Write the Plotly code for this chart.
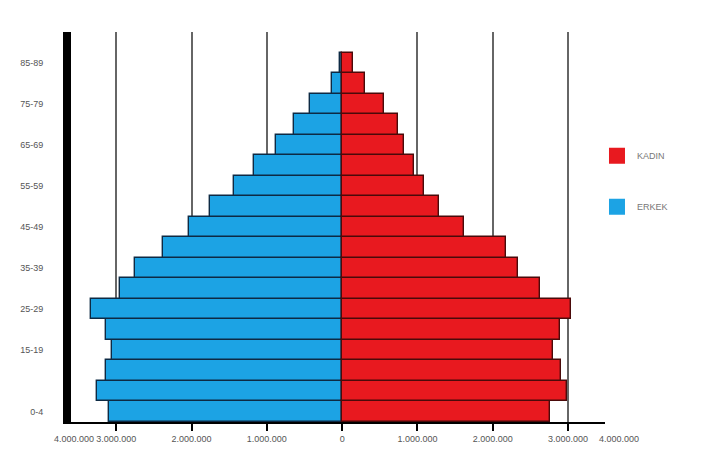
import plotly.graph_objects as go

age_groups = ["0-4", "5-9", "10-14", "15-19", "20-24", "25-29", "30-34", "35-39",
              "40-44", "45-49", "50-54", "55-59", "60-64", "65-69", "70-74",
              "75-79", "80-84", "85-89"]
erkek = [3090000, 3250000, 3140000, 3050000, 3140000, 3330000, 2950000, 2750000,
         2380000, 2040000, 1750000, 1430000, 1170000, 880000, 640000,
         430000, 130000, 30000]
kadin = [2760000, 2990000, 2910000, 2800000, 2890000, 3040000, 2630000, 2340000,
         2170000, 1620000, 1280000, 1090000, 960000, 820000, 740000,
         550000, 300000, 140000]
shown_age_labels = ["0-4", "15-19", "25-29", "35-39", "45-49", "55-59", "65-69", "75-79", "85-89"]
x_tick_vals = [-3000000, -2000000, -1000000, 0, 1000000, 2000000, 3000000]
x_tick_text = ["3.000.000", "2.000.000", "1.000.000", "0", "1.000.000", "2.000.000", "3.000.000"]
grid_vals = [-3000000, -2000000, -1000000, 1000000, 2000000, 3000000]
end_label = "4.000.000"

BLUE = "#1ca3e4"
RED = "#e8191f"

fig = go.Figure()
fig.add_trace(go.Bar(
    y=age_groups, x=[-v for v in erkek], orientation="h", name="ERKEK",
    marker=dict(color=BLUE, line=dict(color="#0d2a44", width=1.4)),
    showlegend=False,
    customdata=erkek, hovertemplate="%{y}: %{customdata:,}<extra>ERKEK</extra>",
))
fig.add_trace(go.Bar(
    y=age_groups, x=kadin, orientation="h", name="KADIN",
    marker=dict(color=RED, line=dict(color="#4a0a0a", width=1.4)),
    showlegend=False,
    hovertemplate="%{y}: %{x:,}<extra>KADIN</extra>",
))
# legend entries (larger square swatches like the reference)
for name, col, rank in [("KADIN", RED, 1), ("ERKEK", BLUE, 2)]:
    fig.add_trace(go.Scatter(
        x=[None], y=[None], mode="markers", name=name,
        marker=dict(symbol="square", size=22, color=col),
        legendrank=rank, legendgroup=name, showlegend=True,
    ))

fig.update_layout(
    width=712, height=456,
    margin=dict(l=58, r=115, t=24, b=42),
    paper_bgcolor="white", plot_bgcolor="white",
    barmode="relative", bargap=0,
    font=dict(family="Liberation Sans, Arial, sans-serif", size=9, color="#555"),
    showlegend=True,
    legend=dict(x=0.985, y=0.72, xanchor="left", yanchor="top",
                font=dict(size=9, color="#777"), tracegroupgap=32,
                itemsizing="trace", bgcolor="rgba(0,0,0,0)"),
    xaxis=dict(
        range=[-3600000, 3490000],
        tickmode="array", tickvals=x_tick_vals, ticktext=x_tick_text,
        showgrid=False, zeroline=False,
        minor=dict(tickmode="array", tickvals=grid_vals, showgrid=True,
                   gridcolor="#666", gridwidth=1.5, ticks=""),
        showline=True, linecolor="black", linewidth=2,
        ticks="outside", ticklen=7, tickwidth=2, tickcolor="black",
        tickfont=dict(size=9, color="#555"),
    ),
    yaxis=dict(
        type="category", categoryorder="array", categoryarray=age_groups,
        range=[-0.5, 18.5],
        tickmode="array", tickvals=shown_age_labels, ticktext=shown_age_labels,
        showgrid=False, zeroline=False,
        showline=True, linecolor="black", linewidth=8,
        ticks="", ticklabelstandoff=18,
        tickfont=dict(size=9, color="#555"),
    ),
    annotations=[
        dict(text=end_label, xref="paper", yref="paper", x=0.005, y=0,
             xanchor="center", yanchor="middle", yshift=-17, showarrow=False,
             font=dict(size=9, color="#555")),
        dict(text=end_label, xref="paper", yref="paper", x=1.026, y=0,
             xanchor="center", yanchor="middle", yshift=-17, showarrow=False,
             font=dict(size=9, color="#555")),
    ],
)

fig.write_html("out.html")
